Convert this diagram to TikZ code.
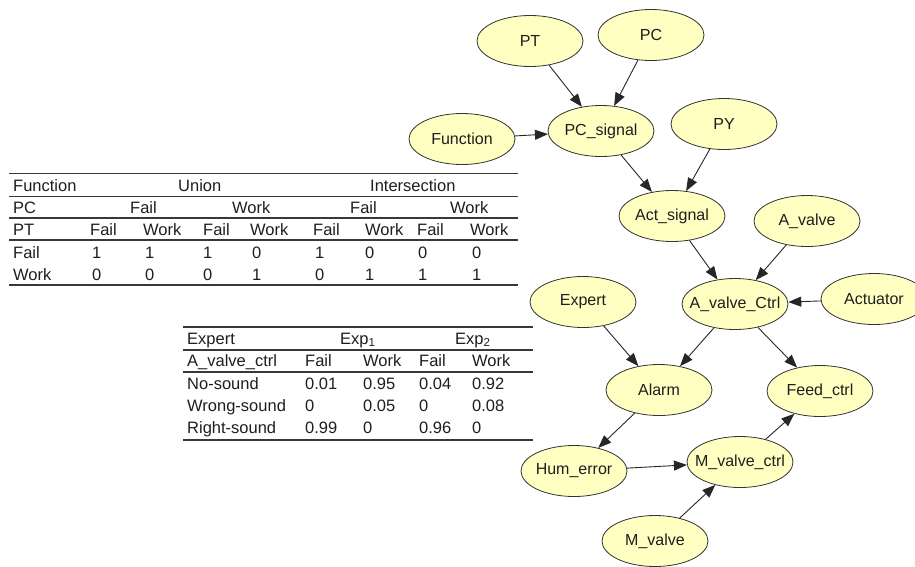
\documentclass[tikz,border=0pt]{standalone}
\usepackage{fontspec}
\setmainfont{Liberation Sans}
\usetikzlibrary{arrows.meta,shapes.geometric}
\definecolor{bnfill}{RGB}{255,255,194}
\definecolor{ink}{RGB}{30,30,30}
% zero-width label so every ellipse keeps the same size
\newcommand\bnlabel[1]{\makebox[0pt]{#1}}
\begin{document}
\begin{tikzpicture}[x=1pt,y=-1pt,
  bn/.style={ellipse, draw=black!80, line width=0.8pt, fill=bnfill,
    minimum width=106pt, minimum height=51pt, inner sep=0pt,
    font=\fontsize{16}{18}\selectfont, text=ink},
  link/.style={-{Triangle[length=13pt,width=10pt]}, line width=0.9pt, draw=black!85},
  cell/.style={anchor=base west, inner sep=0pt,
    font=\fontsize{16.5}{19}\selectfont, text=ink},
  rule/.style={line width=1.1pt, draw=black!78}]
\useasboundingbox (0,0) rectangle (915,566);

% ---------- network ----------
\node[bn] (PT)   at (530,41)  {\bnlabel{PT}};
\node[bn] (PC)   at (651,35)  {\bnlabel{PC}};
\node[bn] (Fn)   at (462,139) {\bnlabel{Function}};
\node[bn] (PCs)  at (601,131) {\bnlabel{PC\_signal}};
\node[bn] (PY)   at (724,124) {\bnlabel{PY}};
\node[bn] (Act)  at (672,216) {\bnlabel{Act\_signal}};
\node[bn] (Av)   at (807,221) {\bnlabel{A\_valve}};
\node[bn] (Exp)  at (583,302) {\bnlabel{Expert}};
\node[bn] (AvC)  at (735,304) {\bnlabel{A\_valve\_Ctrl}};
\node[bn] (Actu) at (874,299) {\bnlabel{Actuator}};
\node[bn] (Al)   at (659,390) {\bnlabel{Alarm}};
\node[bn] (Fd)   at (820,391) {\bnlabel{Feed\_ctrl}};
\node[bn] (Hum)  at (574,471) {\bnlabel{Hum\_error}};
\node[bn] (Mvc)  at (740,462) {\bnlabel{M\_valve\_ctrl}};
\node[bn] (Mv)   at (655,541) {\bnlabel{M\_valve}};

\draw[link] (PT) -- (PCs);
\draw[link] (PC) -- (PCs);
\draw[link] (Fn) -- (PCs);
\draw[link] (PCs) -- (Act);
\draw[link] (PY) -- (Act);
\draw[link] (Act) -- (AvC);
\draw[link] (Av) -- (AvC);
\draw[link] (Actu) -- (AvC);
\draw[link] (AvC) -- (Al);
\draw[link] (Exp) -- (Al);
\draw[link] (AvC) -- (Fd);
\draw[link] (Al) -- (Hum);
\draw[link] (Hum) -- (Mvc);
\draw[link] (Mv) -- (Mvc);
\draw[link] (Mvc) -- (Fd);

% ---------- table: PC_signal ----------
\foreach \yy in {173.5,196.5,218,240,285} \draw[rule] (9,\yy) -- (518,\yy);
\node[cell] (f1) at (13,191.5)  {Function};
\node[cell] (f2) at (178,191.5) {Union};
\node[cell] (f3) at (370,191.5) {Intersection};
\foreach \x/\t [count=\i] in {13/PC,130/Fail,232/Work,350/Fail,450/Work}
  \node[cell] (pc\i) at (\x,213) {\t};
\foreach \x/\t [count=\i] in {13/PT,90/Fail,143/Work,203/Fail,250/Work,313/Fail,365/Work,417/Fail,470/Work}
  \node[cell] (pt\i) at (\x,235.5) {\t};
\foreach \x/\t [count=\i] in {13/Fail,92/1,145/1,203/1,252/0,315/1,365/0,418/0,472/0}
  \node[cell] (ra\i) at (\x,258.5) {\t};
\foreach \x/\t [count=\i] in {13/Work,92/0,145/0,203/0,252/1,315/0,365/1,418/1,472/1}
  \node[cell] (rb\i) at (\x,280) {\t};

% ---------- table: Alarm ----------
\foreach \yy in {327,350,372,440} \draw[rule] (183,\yy) -- (533,\yy);
\node[cell] (e1) at (187,344) {Expert};
\node[cell] (e2) at (340,344) {Exp\textsubscript{1}};
\node[cell] (e3) at (455,344) {Exp\textsubscript{2}};
\foreach \x/\t [count=\i] in {187/A\_valve\_ctrl,305/Fail,363/Work,419/Fail,472/Work}
  \node[cell] (ac\i) at (\x,366.5) {\t};
\foreach \x/\t [count=\i] in {187/No-sound,305/0.01,363/0.95,419/0.04,472/0.92}
  \node[cell] (ns\i) at (\x,389) {\t};
\foreach \x/\t [count=\i] in {187/Wrong-sound,305/0,363/0.05,419/0,472/0.08}
  \node[cell] (ws\i) at (\x,411) {\t};
\foreach \x/\t [count=\i] in {187/Right-sound,305/0.99,363/0,419/0.96,472/0}
  \node[cell] (rs\i) at (\x,433) {\t};
\end{tikzpicture}
\end{document}
